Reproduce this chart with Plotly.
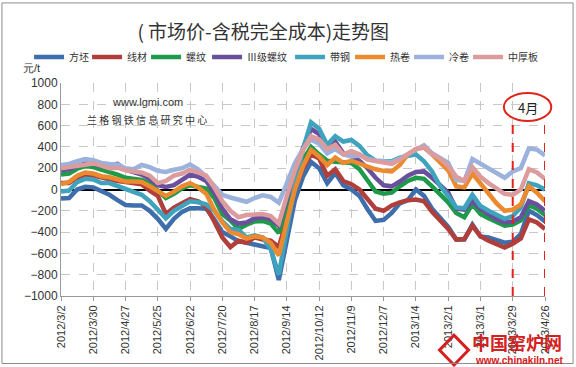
import pandas as pd
import plotly.graph_objects as go

# ---- data ----
dates = pd.date_range("2012-03-02", periods=61, freq="7D")
categories = [f"{d.year}/{d.month}/{d.day}" for d in dates]
tick_labels = ["2012/3/2", "2012/3/30", "2012/4/27", "2012/5/25", "2012/6/22", "2012/7/20",
               "2012/8/17", "2012/9/14", "2012/10/12", "2012/11/9", "2012/12/7", "2013/1/4",
               "2013/2/1", "2013/3/1", "2013/3/29", "2013/4/26"]

fangpi = [-85, -80, 0, 25, 20, -10, -50, -100, -145, -150, -150, -200, -275, -370, -275, -210,
          -175, -175, -180, -280, -400, -440, -485, -500, -515, -530, -550, -850, -450, -100,
          120, 260, 200, 60, 155, 40, 0, -60, -185, -295, -285, -220, -130, -100, 0, -60,
          -180, -270, -350, -470, -470, -330, -440, -450, -480, -500, -490, -420, -200, -240, -300]
xiancai = [60, 60, 110, 140, 130, 110, 100, 80, 70, 60, 50, -10, -60, -230, -170, -130,
           -90, -110, -160, -300, -450, -540, -480, -500, -450, -470, -480, -540, -280, 20,
           200, 330, 290, 130, 190, 80, 50, 0, -90, -180, -200, -150, -120, -100, -95, -110,
           -210, -290, -370, -470, -465, -340, -440, -480, -510, -545, -510, -460, -280, -310, -370]
luowen = [140, 150, 195, 220, 210, 190, 170, 140, 110, 95, 90, 60, -10, -80, -40, 10,
          40, 30, 10, -80, -230, -290, -370, -330, -300, -295, -320, -410, -150, 100,
          280, 400, 330, 270, 260, 250, 250, 190, 80, -20, -40, -30, 30, 80, 110, 100,
          30, -50, -120, -220, -260, -140, -230, -270, -310, -340, -330, -290, -150, -180, -240]
luowen3 = [180, 190, 220, 245, 240, 220, 230, 240, 185, 160, 140, 100, 40, 25, 40, 90,
           140, 120, 80, -30, -180, -280, -320, -310, -270, -260, -280, -340, -80, 160,
           390, 570, 520, 370, 450, 340, 310, 270, 200, 110, 40, 30, 75, 130, 165, 170,
           110, 40, -30, -180, -190, -110, -180, -230, -280, -310, -300, -260, -110, -140, -200]
daigang = [-20, -10, 70, 100, 95, 60, 60, 30, 10, -30, -50, -110, -190, -270, -200, -150,
           -110, -120, -140, -200, -300, -370, -380, -450, -430, -450, -560, -800, -350, 50,
           380, 630, 570, 420, 500, 450, 465, 410, 320, 270, 265, 265, 300, 320, 330, 265,
           170, 30, -60, -170, -175, -50, -155, -200, -235, -275, -250, -170, 60, 40, 0]
rejuan = [50, 70, 130, 160, 150, 125, 115, 100, 75, 75, 70, 30, -20, -60, -20, 30,
          60, 20, -40, -190, -310, -400, -420, -460, -440, -450, -500, -620, -300, 0,
          220, 370, 310, 230, 300, 250, 270, 240, 215, 190, 175, 170, 230, 330, 380, 395,
          330, 260, 180, 30, 20, 150, 60, -40, -130, -200, -190, -140, 30, -30, -110]
lengjuan = [230, 240, 265, 285, 275, 250, 240, 235, 200, 190, 230, 210, 175, 165, 185, 200,
            235, 190, 120, 30, -50, -75, -95, -115, -80, -55, -70, -125, 60, 250,
            380, 470, 430, 340, 380, 330, 310, 320, 290, 270, 265, 255, 290, 330, 370, 415,
            340, 300, 250, 90, 80, 285, 240, 200, 160, 110, 170, 200, 385, 375, 320]
zhonghouban = [200, 210, 230, 240, 245, 225, 200, 205, 180, 170, 160, 130, 60, 80, 130, 150,
               185, 160, 130, 20, -110, -200, -260, -240, -240, -230, -250, -320, -60, 180,
               370, 500, 470, 380, 420, 330, 360, 330, 280, 270, 260, 240, 280, 330, 380, 400,
               330, 290, 220, 120, 80, 210, 120, 60, 10, -40, -50, 0, 190, 160, 100]

series_names = ["方坯", "线材", "螺纹", "Ⅲ级螺纹", "带钢", "热卷", "冷卷", "中厚板"]
series_values = [fangpi, xiancai, luowen, luowen3, daigang, rejuan, lengjuan, zhonghouban]
series_colors = ["#3e6eab", "#b03f3b", "#1f9a4b", "#6a4f9c", "#3fa3be", "#ec8a2f", "#9bb2dc", "#dc9b9d"]
legend_widths = [13, 14, 16, 38, 15, 14, 14, 26]

fig = go.Figure()
for name, vals, col, lw in zip(series_names, series_values, series_colors, legend_widths):
    fig.add_trace(go.Scatter(x=categories, y=vals, mode="lines", name=name,
                             line=dict(color=col, width=4.5), legendwidth=lw))

cjk = "Noto Sans CJK SC"
fig.update_layout(
    width=576, height=367,
    margin=dict(l=61, r=31, t=83, b=71),
    paper_bgcolor="white", plot_bgcolor="white",
    font=dict(family="Liberation Sans", color="#333333", size=11),
    title=dict(text="( 市场价-含税完全成本)走势图", x=0.457, xanchor="center", y=0.913, yanchor="middle",
               font=dict(family=cjk, size=19, color="#333333")),
    legend=dict(orientation="h", x=-0.066, xanchor="left", y=1.122, yanchor="middle",
                font=dict(family=cjk, size=10, color="#333333"), itemwidth=30,
                bgcolor="rgba(0,0,0,0)", tracegroupgap=0),
    showlegend=True,
)
fig.update_xaxes(type="category", range=[0, 60], tickmode="array", tickvals=tick_labels,
                 ticktext=tick_labels, tickangle=-90, tickfont=dict(size=11, color="#333333"),
                 showgrid=True, gridcolor="#c8c8c8", griddash="dash", gridwidth=1,
                 showline=True, linecolor="#9a9a9a", linewidth=1, ticks="outside", ticklen=4,
                 tickcolor="#9a9a9a", zeroline=False, automargin=False)
fig.update_yaxes(range=[-1000, 1000], dtick=200, tickfont=dict(size=12, color="#333333"),
                 showgrid=True, gridcolor="#c8c8c8", griddash="dash", gridwidth=1,
                 showline=True, linecolor="#9a9a9a", linewidth=1, ticks="", zeroline=True,
                 zerolinecolor="black", zerolinewidth=2, automargin=False)

# red marker for April
red = "#e2231a"
for xv in ["2013/3/29", "2013/4/26"]:
    fig.add_shape(type="line", xref="x", yref="y", x0=xv, x1=xv, y0=-1000, y1=660,
                  line=dict(color=red, width=2, dash="dash"))
fig.add_shape(type="circle", xref="paper", yref="paper", x0=0.915, x1=1.013, y0=0.822, y1=0.953,
              line=dict(color=red, width=2))
fig.add_annotation(text="4月", xref="paper", yref="paper", x=0.964, y=0.887, showarrow=False,
                   xanchor="center", yanchor="middle",
                   font=dict(family=cjk, size=13, color="#222222"))

# unit label
fig.add_annotation(text="元/t", xref="paper", yref="paper", x=-0.06, y=1.07, showarrow=False,
                   xanchor="center", yanchor="middle", font=dict(family="Liberation Sans", size=11, color="#333333"))

# watermark
fig.add_annotation(text="www.lgmi.com", xref="paper", yref="paper", x=0.178, y=0.91, showarrow=False,
                   xanchor="center", yanchor="middle",
                   font=dict(family="Liberation Sans", size=11, color="#333333"))
fig.add_annotation(text="兰 格 钢 铁 信 息 研 究 中 心", xref="paper", yref="paper", x=0.178, y=0.83,
                   xanchor="center", yanchor="middle",
                   showarrow=False, font=dict(family=cjk, size=10, color="#333333"))

# bottom-right watermark
fig.add_annotation(text="<b>中国窑炉网</b>", xref="paper", yref="paper", x=0.942, y=-0.218, showarrow=False,
                   xanchor="center", yanchor="middle", font=dict(family=cjk, size=18, color="#d42020"))
fig.add_annotation(text="<b>www.chinakiln.net</b>", xref="paper", yref="paper", x=0.948, y=-0.302,
                   showarrow=False, xanchor="center", yanchor="middle",
                   font=dict(family="Liberation Sans", size=10, color="#d42020"))
fig.add_shape(type="path", xref="paper", yref="paper",
              path="M 0.782 -0.254 L 0.812 -0.184 L 0.842 -0.254 L 0.812 -0.324 Z",
              line=dict(color="#d42020", width=3), fillcolor="rgba(0,0,0,0)")

# outer border
fig.add_shape(type="rect", xref="paper", yref="paper", x0=-0.122, x1=1.058, y0=-0.317, y1=1.376,
              line=dict(color="#8c8c8c", width=1))

fig.write_html("out.html", config={"displayModeBar": False},
               post_script="document.body.style.margin='0px';document.body.style.overflow='hidden';")
